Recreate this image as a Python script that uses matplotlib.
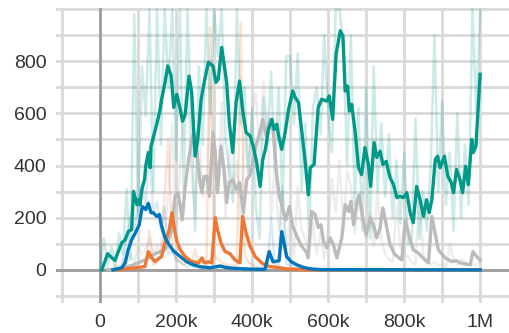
import matplotlib
matplotlib.use('Agg')
import matplotlib.pyplot as plt
import numpy as np

plt.rcParams['font.family'] = ['Liberation Sans', 'DejaVu Sans']

# smoothed runs: steps (k), values
green_x = [4.5, 20, 31, 39, 48, 57, 66, 74, 83, 88, 97, 101, 105, 110, 117, 120, 127, 132, 134, 140,
           149, 158, 162, 171, 178, 187, 194, 202, 211, 217, 224, 234, 241, 250, 257, 266, 274, 285,
           297, 305, 311, 320, 333, 340, 349, 358, 367, 375, 384, 395, 403, 412, 421, 428, 435, 443,
           452, 458, 465, 470, 478, 487, 496, 507, 513, 522, 531, 539, 548, 553, 563, 574, 583, 597,
           603, 612, 621, 632, 639, 645, 651, 656, 662, 671, 680, 688, 697, 706, 712, 721, 728, 737,
           744, 753, 759, 763, 772, 781, 789, 798, 807, 816, 824, 833, 842, 851, 859, 866, 873, 882,
           888, 895, 906, 915, 924, 930, 938, 947, 954, 962, 969, 978, 982, 989, 1000]
green_y = [0, 62, 46, 36, 70, 104, 115, 147, 154, 301, 250, 269, 250, 308, 346, 397, 450, 392, 474, 508,
           558, 615, 654, 719, 782, 744, 623, 673, 615, 570, 596, 743, 681, 436, 500, 654, 719, 796,
           782, 719, 731, 853, 719, 565, 450, 642, 724, 615, 527, 513, 474, 412, 320, 423, 462, 538,
           577, 538, 558, 513, 462, 527, 615, 686, 662, 642, 527, 423, 288, 392, 404, 623, 654, 647,
           667, 577, 827, 917, 897, 686, 705, 609, 635, 532, 392, 365, 469, 404, 320, 488, 431, 455,
           404, 416, 378, 354, 327, 277, 282, 277, 296, 219, 181, 320, 269, 205, 269, 219, 269, 423,
           436, 392, 436, 359, 335, 296, 385, 346, 296, 397, 327, 500, 450, 474, 750]

gray_x = [21, 53, 87, 118, 149, 171, 189, 197, 205, 211, 216, 224, 232, 241, 247, 255, 263, 268, 274,
          281, 288, 297, 303, 309, 318, 326, 333, 340, 349, 358, 367, 377, 386, 395, 403, 411, 419,
          428, 437, 447, 456, 465, 472, 481, 489, 498, 507, 518, 531, 544, 547, 557, 566, 574, 581,
          588, 597, 605, 614, 623, 636, 645, 654, 660, 667, 676, 682, 691, 700, 711, 719, 728, 737,
          744, 753, 763, 776, 794, 803, 816, 824, 837, 855, 864, 873, 890, 908, 925, 938, 947, 961,
          974, 981, 991, 1000]
gray_y = [0, 4, 19, 38, 65, 77, 154, 282, 296, 243, 192, 320, 412, 500, 527, 450, 335, 296, 358,
          359, 282, 527, 450, 296, 474, 385, 258, 335, 346, 308, 335, 219, 346, 365, 423, 481, 519,
          577, 513, 577, 527, 359, 282, 231, 192, 243, 167, 128, 90, 65, 46, 224, 212, 162, 173,
          109, 85, 123, 96, 46, 123, 250, 224, 263, 173, 263, 288, 200, 135, 200, 173, 123, 162,
          238, 173, 96, 58, 38, 192, 115, 77, 65, 38, 27, 205, 77, 46, 32, 35, 27, 23,
          19, 70, 51, 38]

orange_x = [42, 57, 92, 118, 127, 136, 145, 153, 162, 169, 176, 182, 189, 196, 202, 211, 224, 241,
            259, 268, 274, 285, 294, 303, 309, 318, 329, 342, 355, 368, 375, 384, 395, 408, 425,
            439, 452, 474, 491, 544, 1000]
orange_y = [0, 2, 8, 13, 70, 46, 32, 42, 51, 96, 128, 154, 219, 154, 109, 77, 51, 32,
            27, 46, 27, 31, 27, 200, 154, 104, 70, 62, 38, 27, 205, 142, 90, 51, 27,
            15, 12, 8, 4, 0, 0]

blue_x = [34, 57, 66, 74, 83, 97, 103, 111, 120, 127, 134, 140, 149, 156, 162, 171, 180, 193, 202,
          215, 228, 246, 263, 289, 316, 329, 350, 395, 434, 445, 455, 471, 478, 491, 503, 518,
          534, 553, 579, 1000]
blue_y = [0, 8, 27, 77, 115, 154, 173, 243, 231, 255, 219, 219, 205, 212, 167, 123, 100, 73, 62,
          46, 31, 19, 12, 8, 15, 10, 6, 3, 2, 70, 31, 35, 147, 51, 31, 19,
          10, 4, 1, 0]

# raw (unsmoothed) runs, every 10k steps
green_raw = [0, 120, 20, 90, 10, 140, 60, 310, 40, 980, 200, 780, 590, 1000, 300, 1000, 480, 1000,
             700, 1000, 420, 1000, 300, 1000, 560, 150, 780, 480, 1000, 600, 1000, 820, 1000, 500,
             380, 260, 1000, 560, 700, 350, 620, 240, 120, 660, 480, 760, 380, 700, 240, 820, 820,
             560, 830, 300, 560, 120, 620, 700, 520, 900, 600, 450, 1000, 1000, 850, 400, 900, 250,
             620, 150, 700, 120, 780, 300, 560, 280, 520, 200, 420, 180, 450, 100, 120, 580, 120,
             300, 150, 400, 900, 300, 650, 250, 450, 150, 600, 200, 480, 250, 1000, 600, 1000]
gray_raw = [0, 0, 10, 0, 20, 10, 40, 20, 60, 30, 90, 60, 80, 120, 60, 90, 70, 150, 300, 560,
            150, 380, 600, 700, 380, 200, 560, 280, 300, 700, 420, 300, 640, 200, 460, 300, 420,
            180, 520, 380, 600, 680, 420, 720, 560, 200, 400, 150, 300, 80, 200, 50, 320, 150,
            120, 60, 180, 60, 150, 40, 160, 350, 220, 420, 150, 380, 320, 140, 260, 200, 120,
            220, 90, 300, 120, 60, 40, 30, 250, 90, 60, 50, 30, 20, 300, 60, 30, 20, 30, 20,
            20, 10, 100, 40, 20, 40, 30, 20, 20, 20, 30]
orange_raw = [0, 0, 0, 0, 0, 0, 0, 0, 0, 0, 10, 0, 20, 150, 20, 30, 60, 300, 500, 80,
              40, 30, 20, 40, 20, 80, 20, 30, 20, 930, 60, 40, 30, 20, 20, 20, 10, 950, 60,
              30, 20, 10, 10, 10, 10, 5, 5, 5, 0, 0, 0, 0, 0, 0, 0, 0, 0, 0, 0, 0,
              0, 0, 0, 0, 0, 0, 0, 0, 0, 0, 0, 0, 0, 0, 0, 0, 0, 0, 0, 0,
              0, 0, 0, 0, 0, 0, 0, 0, 0, 0, 0, 0, 0, 0, 0, 0, 0, 0, 0, 0, 0]
blue_raw = [0, 0, 0, 0, 0, 0, 20, 120, 200, 150, 260, 330, 250, 470, 220, 260, 150, 240, 60, 70,
            40, 30, 20, 10, 20, 10, 10, 5, 10, 40, 5, 5, 10, 5, 5, 5, 5, 5, 0, 0,
            0, 0, 0, 0, 0, 200, 10, 20, 320, 20, 20, 10, 5, 5, 0, 0, 0, 0, 0, 0,
            0, 0, 0, 0, 0, 0, 0, 0, 0, 0, 0, 0, 0, 0, 0, 0, 0, 0, 0, 0,
            0, 0, 0, 0, 0, 0, 0, 0, 0, 0, 0, 0, 0, 0, 0, 0, 0, 0, 0, 0, 0]
raw_x = np.arange(0, 1001, 10)

x_ticks = [0, 200e3, 400e3, 600e3, 800e3, 1e6]
x_labels = ['0', '200k', '400k', '600k', '800k', '1M']
y_ticks = [0, 200, 400, 600, 800]
y_labels = ['0', '200', '400', '600', '800']

fig = plt.figure(figsize=(5.09, 3.33), dpi=100)
ax = fig.add_axes([56 / 509, 30 / 333, 453 / 509, 295 / 333])
ax.set_xlim(-116e3, 1076e3)
ax.set_ylim(-127, 1004)
for s in ax.spines.values():
    s.set_visible(False)

# grid
for gx in np.arange(-100e3, 1.01e6, 100e3):
    ax.axvline(gx, color='#d9d9d9', lw=2, zorder=0)
for gy in np.arange(-100, 1001, 100):
    ax.axhline(gy, color='#d9d9d9', lw=2, zorder=0)
ax.axhline(0, color='#9e9e9e', lw=2, zorder=1)
ax.axvline(0, color='#9e9e9e', lw=2, zorder=1)

colors = {'gray': '#bbbbbb', 'orange': '#ee7733', 'blue': '#0077bb', 'green': '#009988'}

# raw traces
ax.plot(raw_x * 1e3, gray_raw, color=colors['gray'], lw=1.8, alpha=0.25, zorder=2)
ax.plot(raw_x * 1e3, orange_raw, color=colors['orange'], lw=1.8, alpha=0.2, zorder=2)
ax.plot(raw_x * 1e3, blue_raw, color=colors['blue'], lw=1.8, alpha=0.15, zorder=2)
ax.plot(raw_x * 1e3, green_raw, color=colors['green'], lw=1.8, alpha=0.2, zorder=2)

# smoothed
lw = 2.4
ax.plot(np.array(gray_x) * 1e3, gray_y, color=colors['gray'], lw=lw, zorder=3)
ax.plot(np.array(orange_x) * 1e3, orange_y, color=colors['orange'], lw=lw, zorder=4)
ax.plot(np.array(blue_x) * 1e3, blue_y, color=colors['blue'], lw=lw, zorder=5)
ax.plot(np.array(green_x) * 1e3, green_y, color=colors['green'], lw=lw, zorder=6)

ax.set_xticks(x_ticks)
ax.set_xticklabels(x_labels)
ax.set_yticks(y_ticks)
ax.set_yticklabels(y_labels)
ax.tick_params(length=0, labelsize=14, labelcolor='#333333')
ax.tick_params(axis='x', pad=8)
ax.tick_params(axis='y', pad=7)

fig.savefig('out.png', dpi=100)
